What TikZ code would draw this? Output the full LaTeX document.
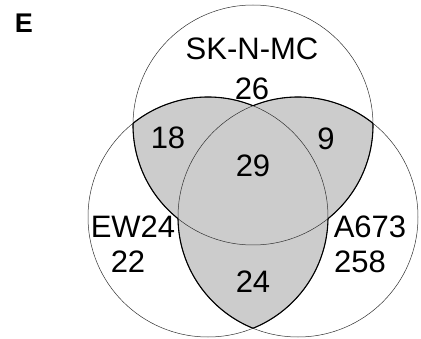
\documentclass[tikz,border=0pt]{standalone}
\usepackage{fontspec}
\setmainfont{Liberation Sans}
\begin{document}
\begin{tikzpicture}[x=1pt,y=1pt,
  lbl/.style={font=\fontsize{31}{33}\selectfont, inner sep=0pt},
  thincircle/.style={draw=black!80, line width=0.5pt},
  thickedge/.style={draw=black, line width=1.1pt},
  shade/.style={fill=black!20}]
\useasboundingbox (0,0) rectangle (421,338);
\def\rad{120}
\coordinate (T) at (253,213);
\coordinate (L) at (208,121);
\coordinate (R) at (298,121);
% shaded pairwise intersections
\begin{scope}
  \clip (T) circle (\rad);
  \fill[shade] (L) circle (\rad);
  \fill[shade] (R) circle (\rad);
\end{scope}
\begin{scope}
  \clip (L) circle (\rad);
  \fill[shade] (R) circle (\rad);
\end{scope}
% thin circles
\draw[thincircle] (T) circle (\rad);
\draw[thincircle] (L) circle (\rad);
\draw[thincircle] (R) circle (\rad);
% thick outline of shaded region
\begin{scope}[even odd rule]
  \clip (L) circle (\rad) (R) circle (\rad);
  \draw[thickedge] (T) circle (\rad);
\end{scope}
\begin{scope}[even odd rule]
  \clip (T) circle (\rad) (R) circle (\rad);
  \draw[thickedge] (L) circle (\rad);
\end{scope}
\begin{scope}[even odd rule]
  \clip (T) circle (\rad) (L) circle (\rad);
  \draw[thickedge] (R) circle (\rad);
\end{scope}
% labels
\node[font=\fontsize{27}{29}\selectfont\bfseries, inner sep=0pt] (panel) at (24,315) {E};
\node[lbl] (sk) at (252,289) {SK-N-MC};
\node[lbl] (n26) at (252,249) {26};
\node[lbl] (n18) at (168,200) {18};
\node[lbl] (n9) at (326,199) {9};
\node[lbl] (n29) at (253,172) {29};
\node[lbl] (ew) at (133,111) {EW24};
\node[lbl] (n22) at (128,76) {22};
\node[lbl] (a673) at (370,111) {A673};
\node[lbl] (n258) at (360,76) {258};
\node[lbl] (n24) at (253,56) {24};
\end{tikzpicture}
\end{document}
